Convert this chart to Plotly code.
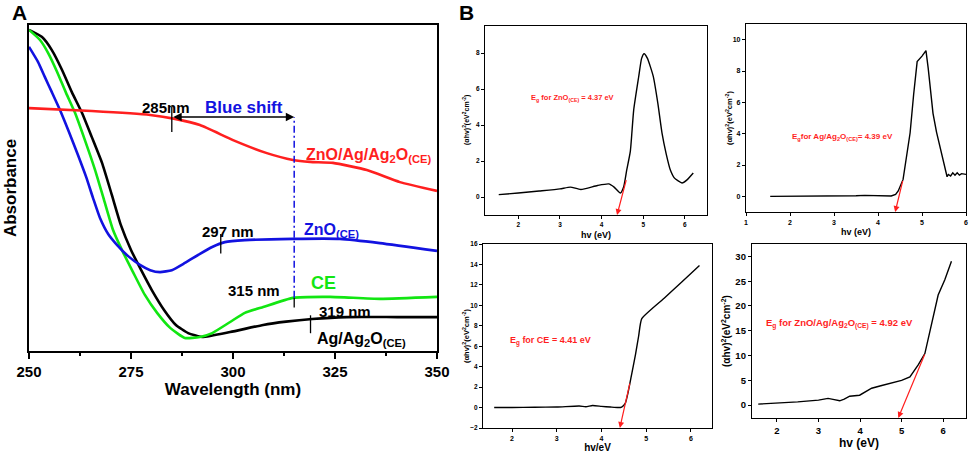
#! /usr/bin/env python
# -*- coding: utf-8 -*-

"""UV-vis absorbance (A) and Tauc plots (B) with plotly"""

import numpy as np
import plotly.graph_objects as go


# panel A: absorbance spectra (a.u.)
# **********************************

nm_black = [250, 253.2, 255.6, 258.1, 260.5, 263.0, 265.4, 267.9, 270.3, 272.5, 275.0,
            277.5, 280.1, 283.1, 286.0, 289.0, 292.4, 299.3, 307.4, 313.0, 319.4, 327.9,
            340.2, 350]
abs_black = [0.985, 0.963, 0.923, 0.862, 0.794, 0.730, 0.656, 0.577, 0.479, 0.387, 0.310,
             0.248, 0.187, 0.126, 0.080, 0.055, 0.043, 0.058, 0.080, 0.090, 0.098, 0.104,
             0.104, 0.104]

nm_green = [250, 252.7, 254.7, 256.9, 259.1, 261.3, 263.7, 266.2, 268.4, 270.6, 273.0,
            275.5, 278.4, 281.4, 284.6, 288.2, 291.9, 294.9, 299.3, 302.9, 307.4, 314.7,
            323.8, 336.0, 350]
abs_green = [0.985, 0.954, 0.914, 0.856, 0.791, 0.730, 0.647, 0.555, 0.463, 0.371, 0.304,
             0.242, 0.172, 0.117, 0.071, 0.040, 0.043, 0.055, 0.089, 0.117, 0.135, 0.163,
             0.166, 0.160, 0.166]

nm_blue = [250, 252.2, 253.9, 255.6, 257.6, 259.8, 262.0, 264.0, 265.7, 267.4, 269.4,
           271.6, 274.3, 277.2, 279.7, 282.1, 285.0, 288.2, 291.9, 294.9, 298.0, 302.9,
           314.7, 326.2, 336.0, 350]
abs_blue = [0.933, 0.887, 0.840, 0.794, 0.739, 0.672, 0.601, 0.534, 0.469, 0.408, 0.359,
            0.325, 0.291, 0.264, 0.248, 0.242, 0.248, 0.270, 0.298, 0.319, 0.334, 0.340,
            0.344, 0.344, 0.331, 0.307]

nm_red = [250, 265.4, 279.7, 285.8, 291.9, 300.0, 308.3, 314.7, 318.9, 324.5, 332.8,
          340.9, 350]
abs_red = [0.745, 0.736, 0.724, 0.712, 0.693, 0.647, 0.607, 0.586, 0.580, 0.577, 0.555,
           0.518, 0.491]

# band edge markers: wavelength, curve
edge_marks = [(285, 'red'), (297, 'blue'), (315, 'green'), (319, 'black')]


# panel B: Tauc plots, (ahv)^2 vs hv
# **********************************

hv_zno = [1.53, 2.0, 2.5, 3.0, 3.25, 3.5, 3.9, 4.17, 4.3, 4.45, 4.53, 4.6, 4.69, 4.77,
          4.89, 4.96, 5.02, 5.1, 5.24, 5.35, 5.45, 5.55, 5.65, 5.75, 5.93, 6.05, 6.2]
tauc_zno = [0.13, 0.22, 0.33, 0.45, 0.55, 0.42, 0.64, 0.73, 0.55, 0.22, 0.57, 1.46, 2.55,
            4.83, 6.68, 7.7, 7.96, 7.7, 6.7, 5.2, 3.55, 2.4, 1.5, 1.05, 0.78, 0.95, 1.33]

hv_ag = [1.55, 2.0, 2.5, 3.0, 3.5, 3.7, 4.0, 4.3, 4.4, 4.46, 4.57, 4.65, 4.73, 4.81,
         4.89, 5.0, 5.09, 5.14, 5.2, 5.25, 5.33, 5.41, 5.5, 5.57, 5.6, 5.65, 5.7, 5.75,
         5.8, 5.85, 5.9, 5.95, 6.0]
tauc_ag = [0, 0, 0.01, 0.02, 0.04, 0.06, 0.04, 0.02, 0.12, 0.34, 1.08, 2.5, 4.06, 6.5,
           8.6, 8.95, 9.3, 8.2, 6.6, 5.3, 4.1, 3.2, 2.2, 1.25, 1.4, 1.3, 1.5, 1.35,
           1.5, 1.35, 1.45, 1.4, 1.4]

hv_ce = [1.6, 2.0, 2.5, 3.0, 3.5, 3.65, 3.8, 4.0, 4.2, 4.38, 4.45, 4.53, 4.6, 4.68,
         4.76, 4.83, 4.9, 5.4, 5.8, 6.19]
tauc_ce = [0, 0, 0.03, 0.05, 0.15, 0.08, 0.2, 0.12, 0.05, 0.0, 0.05, 0.4, 1.6, 3.4,
           5.2, 7.0, 8.7, 10.7, 12.3, 13.9]

hv_comp = [1.55, 2.0, 2.5, 3.0, 3.23, 3.35, 3.51, 3.62, 3.75, 3.99, 4.1, 4.28, 4.5,
           4.75, 5.0, 5.2, 5.4, 5.56, 5.68, 5.78, 5.88, 6.04, 6.2]
tauc_comp = [0.2, 0.4, 0.65, 1.0, 1.35, 1.15, 0.87, 1.2, 1.8, 2.0, 2.5, 3.4, 3.9,
             4.4, 5.0, 5.7, 8.1, 10.4, 14.8, 18.5, 22.2, 25.3, 29.0]

# band gaps (eV) and the tangent start point (hv, tauc)
eg_values = [4.37, 4.39, 4.41, 4.92]
tangent_from = [(4.6, 1.02), (4.57, 1.08), (4.64, 2.5), (5.57, 10.5)]

# some constants
RED = '#ff1f1f'
BLUE = '#1212e0'
GREEN = '#12e612'
FONT = 'Liberation Sans'
W, H = 969, 455

fig = go.Figure()

# panel A curves
curves = {
    'black': (nm_black, abs_black, 'black'),
    'green': (nm_green, abs_green, GREEN),
    'blue': (nm_blue, abs_blue, BLUE),
    'red': (nm_red, abs_red, RED),
}
for name, (x, y, color) in curves.items():
    fig.add_trace(go.Scatter(
        x=x, y=y, mode='lines', name=name,
        line=dict(color=color, width=2.6, shape='spline', smoothing=0.5),
        xaxis='x', yaxis='y', showlegend=False
    ))

# panel B curves
tauc = [
    (hv_zno, tauc_zno, 'spline'),
    (hv_ag, tauc_ag, 'linear'),
    (hv_ce, tauc_ce, 'spline'),
    (hv_comp, tauc_comp, 'linear'),
]
for i, (x, y, shape) in enumerate(tauc, start=2):
    fig.add_trace(go.Scatter(
        x=x, y=y, mode='lines',
        line=dict(color='black', width=1.4, shape=shape, smoothing=0.5),
        xaxis=f'x{i}', yaxis=f'y{i}', showlegend=False
    ))

shapes = []
annotations = []

# edge ticks on panel A
tick_span = {285: (0.036, -0.042), 297: (0.03, -0.03), 315: (0.0, -0.03), 319: (0.012, -0.043)}
edge_y = {}
for wl, name in edge_marks:
    x, y, _ = curves[name]
    y0 = float(np.interp(wl, x, y))
    edge_y[wl] = y0
    up, down = tick_span[wl]
    shapes.append(dict(type='line', xref='x', yref='y', x0=wl, x1=wl,
                       y0=y0 + down, y1=y0 + up, line=dict(color='black', width=1.3)))

# blue shift arrow and dash-dot guide
shift_y = 0.718
annotations.append(dict(
    x=315, y=shift_y, ax=285, ay=shift_y, xref='x', yref='y', axref='x', ayref='y',
    text='', showarrow=True, arrowhead=2, arrowside='end+start', arrowsize=1.2,
    arrowwidth=1.4, arrowcolor='black'
))
shapes.append(dict(type='line', xref='x', yref='y', x0=315, x1=315,
                   y0=edge_y[315], y1=shift_y,
                   line=dict(color=BLUE, width=1.5, dash='7px,3px,2px,3px')))

# panel A labels
labels_a = [
    ('<b>285nm</b>', 283.6, 0.748, 'black', 15, 'center'),
    ('<b>Blue shift</b>', 302.7, 0.748, BLUE, 17, 'center'),
    ('<b>ZnO/Ag/Ag<sub>2</sub>O<sub>(CE)</sub></b>', 317.4, 0.6, RED, 16, 'left'),
    ('<b>ZnO<sub>(CE)</sub></b>', 317.0, 0.37, BLUE, 16, 'left'),
    ('<b>297 nm</b>', 298.8, 0.368, 'black', 15, 'center'),
    ('<b>CE</b>', 318.7, 0.209, GREEN, 18, 'left'),
    ('<b>315 nm</b>', 305.1, 0.187, 'black', 15, 'center'),
    ('<b>319 nm</b>', 320.5, 0.12, 'black', 15, 'left'),
    ('<b>Ag/Ag<sub>2</sub>O<sub>(CE)</sub></b>', 320.0, 0.035, 'black', 16, 'left'),
]
for text, x, y, color, size, anchor in labels_a:
    annotations.append(dict(x=x, y=y, xref='x', yref='y', text=text, showarrow=False,
                            xanchor=anchor, yanchor='middle',
                            font=dict(family=FONT, size=size, color=color)))

# tangents and band gap labels in panel B
eg_labels = [
    ('<b>E<sub>g</sub> for ZnO<sub>(CE)</sub> = {} eV</b>', 2.25, 5.5, 7.5),
    ('<b>E<sub>g</sub>for Ag/Ag<sub>2</sub>O<sub>(CE)</sub>= {} eV</b>', 2.0, 3.8, 8),
    ('<b>E<sub>g</sub> for CE = {} eV</b>', 1.9, 6.5, 9),
    ('<b>E<sub>g</sub> for ZnO/Ag/Ag<sub>2</sub>O<sub>(CE)</sub> = {} eV</b>', 1.7, 16.4, 9.5),
]
y_floor = [-1, -1, -2, -2.6]
for i, (eg, (tx, ty), (text, lx, ly, size)) in enumerate(
        zip(eg_values, tangent_from, eg_labels), start=2):
    annotations.append(dict(
        x=eg, y=y_floor[i - 2], ax=tx, ay=ty,
        xref=f'x{i}', yref=f'y{i}', axref=f'x{i}', ayref=f'y{i}',
        text='', showarrow=True, arrowhead=2, arrowsize=1, arrowwidth=1.2,
        arrowcolor=RED
    ))
    annotations.append(dict(
        x=lx, y=ly, xref=f'x{i}', yref=f'y{i}', text=text.format(eg),
        showarrow=False, xanchor='left', yanchor='middle',
        font=dict(family=FONT, size=size, color=RED)
    ))

# panel letters
for letter, px in (('A', 19), ('B', 466)):
    annotations.append(dict(x=px / W, y=1 - 12 / H, xref='paper', yref='paper',
                            text=f'<b>{letter}</b>', showarrow=False,
                            xanchor='center', yanchor='middle',
                            font=dict(family=FONT, size=21, color='black')))

# rotated y titles for panel B
ytitle = '<b>(αhv)<sup>2</sup>(eV<sup>2</sup>cm<sup>-2</sup>)</b>'
for px, py, size in ((467, 120, 7), (729, 118, 7.5), (466, 336, 7.5), (726, 331, 10)):
    annotations.append(dict(x=px / W, y=1 - py / H, xref='paper', yref='paper',
                            text=ytitle, showarrow=False, textangle=-90,
                            xanchor='center', yanchor='middle',
                            font=dict(family=FONT, size=size, color='black')))


def box_axis(domain, rng, tickvals, size, **kw):
    """Black framed axis with outside ticks."""
    return dict(domain=domain, range=rng, tickvals=tickvals, showline=True,
                mirror=True, linecolor='black', linewidth=1.3, ticks='outside',
                ticklen=3, tickwidth=1, tickcolor='black', showgrid=False,
                zeroline=False, automargin=False,
                tickfont=dict(family=FONT, size=size, color='black', weight='bold'),
                **kw)


def xd(a, b):
    return [a / W, b / W]


def yd(top, bottom):
    return [1 - bottom / H, 1 - top / H]


fig.update_layout(
    width=W, height=H,
    margin=dict(l=0, r=0, t=0, b=0, autoexpand=False),
    paper_bgcolor='white', plot_bgcolor='white',
    font=dict(family=FONT, color='black'),
    shapes=shapes, annotations=annotations,
    xaxis=dict(
        domain=xd(29, 437), range=[250, 350], tickvals=[250, 275, 300, 325, 350],
        showline=True, mirror=True, linecolor='black', linewidth=2,
        ticks='outside', ticklen=6, tickwidth=1.5, tickcolor='black',
        minor=dict(dtick=12.5, tick0=250, ticks='outside', ticklen=3, tickcolor='black'),
        showgrid=False, zeroline=False, automargin=False,
        tickfont=dict(family=FONT, size=15, color='black', weight='bold'),
        title=dict(text='<b>Wavelength (nm)</b>', standoff=4,
                   font=dict(family=FONT, size=17, color='black')),
        anchor='y'
    ),
    yaxis=dict(
        domain=yd(25, 351), range=[0, 1], showticklabels=False, ticks='',
        showline=True, mirror=True, linecolor='black', linewidth=2,
        showgrid=False, zeroline=False, automargin=False,
        title=dict(text='<b>Absorbance</b>', standoff=6,
                   font=dict(family=FONT, size=17, color='black')),
        anchor='x'
    ),
    xaxis2=box_axis(xd(485, 707), [1.2, 6.53], [2, 3, 4, 5, 6], 6.5, anchor='y2',
                    title=dict(text='<b>hv (eV)</b>', standoff=4,
                               font=dict(family=FONT, size=9, color='black'))),
    yaxis2=box_axis(yd(26, 215), [-1, 9.5], [0, 2, 4, 6, 8], 6.5, anchor='x2'),
    xaxis3=box_axis(xd(746, 966), [1, 6], [1, 2, 3, 4, 5, 6], 7, anchor='y3',
                    title=dict(text='<b>hv (eV)</b>', standoff=4,
                               font=dict(family=FONT, size=9, color='black'))),
    yaxis3=box_axis(yd(24, 212), [-1, 11], [0, 2, 4, 6, 8, 10], 7, anchor='x3'),
    xaxis4=box_axis(xd(483, 712), [1.35, 6.47], [2, 3, 4, 5, 6], 7, anchor='y4',
                    title=dict(text='<b>hv/eV</b>', standoff=3,
                               font=dict(family=FONT, size=10, color='black'))),
    yaxis4=box_axis(yd(244, 428), [-2, 16], list(range(-2, 17, 2)), 6.5, anchor='x4'),
    xaxis5=box_axis(xd(752, 966), [1.4, 6.55], [2, 3, 4, 5, 6], 9.5, anchor='y5',
                    title=dict(text='<b>hv (eV)</b>', standoff=3,
                               font=dict(family=FONT, size=12, color='black'))),
    yaxis5=box_axis(yd(244, 418), [-2.6, 32.5], [0, 5, 10, 15, 20, 25, 30], 9.5,
                    anchor='x5'),
)

# the page body has a default 8px margin: drop it so the figure sits at (0, 0)
fig.write_html("out.html", config={'displayModeBar': False},
               post_script="document.body.style.margin = '0';")
